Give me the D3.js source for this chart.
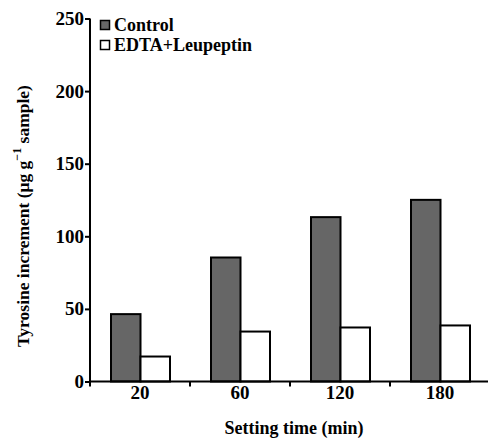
<!DOCTYPE html>
<html><head><meta charset="utf-8">
<script src="https://cdn.jsdelivr.net/npm/d3@7"></script>
<style>body{margin:0;background:#fff}svg{display:block}</style>
</head><body>
<svg id="c" width="489" height="440"></svg>
<script>
const categories = ["20", "60", "120", "180"];
const seriesNames = ["Control", "EDTA+Leupeptin"];
const controlValues = [46.4, 85.4, 113.2, 125.1];
const edtaValues = [17.2, 34.4, 37.2, 38.6];
const yTicks = [0, 50, 100, 150, 200, 250];
const xTitle = "Setting time (min)";

const colors = {"Control": "#666666", "EDTA+Leupeptin": "#ffffff"};
const fontFam = '"Liberation Serif", "Times New Roman", serif';
const svg = d3.select("#c");
const m = {left: 90, right: 1, top: 18.5, bottom: 58.5};
const W = 489, H = 440;

const x = d3.scaleBand().domain(categories).range([m.left, 490]).padding(0);
const x1 = d3.scaleBand().domain(seriesNames).range([21, 80]).padding(0);
const y = d3.scaleLinear().domain([0, 250]).range([H - m.bottom, m.top]);

const rows = categories.map((c, i) => ({cat: c, vals: [
  {s: "Control", v: controlValues[i]}, {s: "EDTA+Leupeptin", v: edtaValues[i]}]}));

const g = svg.append("g");
g.selectAll("g.cat").data(rows).join("g").attr("class", "cat")
  .attr("transform", d => `translate(${x(d.cat)},0)`)
  .selectAll("rect").data(d => d.vals).join("rect")
  .attr("x", d => x1(d.s))
  .attr("width", x1.bandwidth())
  .attr("y", d => y(d.v))
  .attr("height", d => y(0) - y(d.v))
  .attr("fill", d => colors[d.s])
  .attr("stroke", "#000").attr("stroke-width", 2);

function styleText(sel, size, weight) {
  sel.style("font-family", fontFam).style("font-weight", weight || "bold")
    .style("font-size", size + "px").attr("fill", "#000");
}

// Y axis
const yAxis = svg.append("g").attr("transform", `translate(${m.left},0)`)
  .call(d3.axisLeft(y).tickValues(yTicks).tickSize(5).tickPadding(1));
yAxis.select(".domain").attr("d", `M0,${y(250)}V${y(0) + 5}`).attr("stroke-width", 2);
yAxis.selectAll(".tick line").attr("stroke-width", 2);
styleText(yAxis.selectAll("text"), 19);

// X axis (labels centered on bands, ticks at band boundaries)
const xAxis = svg.append("g").attr("transform", `translate(0,${y(0)})`)
  .call(d3.axisBottom(x).tickSize(0).tickPadding(4));
xAxis.select(".domain").attr("d", `M${m.left},0H${W - 1}`).attr("stroke-width", 2);
styleText(xAxis.selectAll("text"), 19);
const bounds = categories.slice(1).map(c => x(c));
xAxis.selectAll("line.bt").data(bounds).join("line").attr("class", "bt")
  .attr("x1", d => d).attr("x2", d => d).attr("y1", 0).attr("y2", 5)
  .attr("stroke", "#000").attr("stroke-width", 2);

// X title
const xt = svg.append("text").attr("x", 294).attr("y", 434)
  .attr("text-anchor", "middle").text(xTitle);
styleText(xt, 18);

// Y title
const yt = svg.append("text").attr("transform", "translate(29,347) rotate(-90)")
  .attr("text-anchor", "start");
styleText(yt, 17.5);
yt.append("tspan").text("Tyrosine increment (μg g");
yt.append("tspan").attr("dy", -8).style("font-size", "12px").text("−1");
yt.append("tspan").attr("dy", 8).text(" sample)");

// Legend
const leg = svg.append("g").attr("transform", "translate(100,20)");
seriesNames.forEach((s, i) => {
  const r = leg.append("g").attr("transform", `translate(0,${i * 20})`);
  r.append("rect").attr("x", 0.5).attr("y", 0.5).attr("width", 9).attr("height", 9)
    .attr("fill", colors[s]).attr("stroke", "#000").attr("stroke-width", 1.5);
  const t = r.append("text").attr("x", 14).attr("y", 11).text(s);
  styleText(t, 18);
});
</script>
</body></html>
